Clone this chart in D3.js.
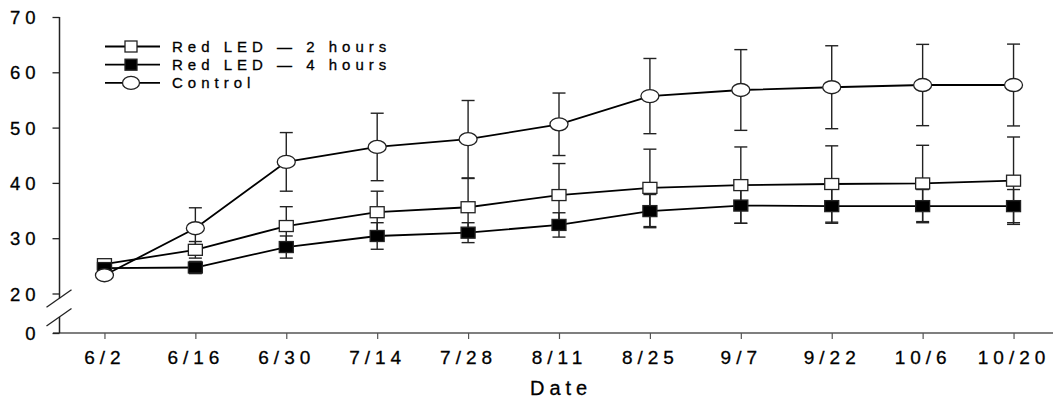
<!DOCTYPE html>
<html>
<head>
<meta charset="utf-8">
<script src="https://cdn.jsdelivr.net/npm/d3@7"></script>
<style>
  body { margin: 0; background: #fff; }
  svg { display: block; font-family: "Liberation Sans", Arial, sans-serif; }
</style>
</head>
<body>
<svg id="chart" width="1053" height="403"></svg>
<script>
var dates = ['6/2', '6/16', '6/30', '7/14', '7/28', '8/11', '8/25', '9/7', '9/22', '10/6', '10/20'];
var led2 = [25.3, 27.9, 32.2, 34.7, 35.6, 37.8, 39.1, 39.6, 39.8, 39.9, 40.4];
var led2Err = [0.6, 1.5, 3.5, 3.8, 5.2, 5.7, 7.0, 6.9, 6.9, 6.9, 7.9];
var led4 = [24.6, 24.7, 28.4, 30.4, 31.0, 32.4, 34.9, 35.9, 35.8, 35.8, 35.8];
var led4Err = [0.5, 1.1, 2.0, 2.4, 1.8, 2.2, 3.0, 3.2, 3.1, 3.0, 3.0];
var control = [23.3, 31.8, 43.8, 46.5, 47.9, 50.6, 55.7, 56.8, 57.3, 57.7, 57.7];
var controlErr = [0.5, 3.7, 5.3, 6.1, 7.0, 5.65, 6.8, 7.3, 7.5, 7.35, 7.4];
var yTicks = [0, 20, 30, 40, 50, 60, 70];
var legendNames = ['Red LED \u2014 2 hours', 'Red LED \u2014 4 hours', 'Control'];

var svg = d3.select('#chart');
var axisX = 59.5, axisY = 333;

var xScale = d3.scalePoint().domain(dates).range([59, 1059]).padding(0.5);
// broken axis: 0..20 squeezed, 20..70 linear
var yScale = d3.scaleLinear().domain([0, 20, 70]).range([333, 293.5, 17]);

// x axis
var xAxis = svg.append('g')
    .attr('transform', 'translate(0,' + axisY + ')')
    .call(d3.axisBottom(xScale).tickSize(6).tickPadding(12).tickSizeOuter(0));
xAxis.select('.domain').remove();
xAxis.append('line').attr('x1', 53).attr('x2', 1053).attr('stroke', '#555').attr('stroke-width', 1.5);
xAxis.selectAll('.tick line').attr('stroke', '#555').attr('stroke-width', 1.2);
xAxis.selectAll('.tick text')
    .attr('fill', '#000').attr('stroke', '#000').attr('stroke-width', 0.3)
    .attr('font-size', 19).attr('letter-spacing', 5)
    .attr('font-family', '"Liberation Sans", Arial, sans-serif');

// y axis
var yAxis = svg.append('g')
    .attr('transform', 'translate(' + axisX + ',0)')
    .call(d3.axisLeft(yScale).tickValues(yTicks).tickSize(7).tickPadding(12).tickFormat(d3.format('d')));
yAxis.select('.domain').remove();
yAxis.selectAll('.tick line').attr('stroke', '#222').attr('stroke-width', 1.3);
yAxis.selectAll('.tick text')
    .attr('fill', '#000').attr('stroke', '#000').attr('stroke-width', 0.3)
    .attr('font-size', 18.5).attr('letter-spacing', 5).attr('dy', '0.36em')
    .attr('font-family', '"Liberation Sans", Arial, sans-serif');

var breakTop = 17.6, breakBottom = 8.1;
yAxis.append('line').attr('y1', yScale(70)).attr('y2', yScale(breakTop)).attr('stroke', '#222').attr('stroke-width', 1.5);
yAxis.append('line').attr('y1', yScale(breakBottom)).attr('y2', yScale(0)).attr('stroke', '#222').attr('stroke-width', 1.5);
[breakTop, breakBottom].forEach(function(v) {
  yAxis.append('line')
    .attr('x1', -13).attr('y1', yScale(v) + 9)
    .attr('x2', 12).attr('y2', yScale(v) - 8.5)
    .attr('stroke', '#222').attr('stroke-width', 1.3);
});

svg.append('text')
    .attr('x', xScale('8/11') - 29).attr('y', 395)
    .attr('stroke', '#000').attr('stroke-width', 0.3)
    .attr('font-size', 20).attr('letter-spacing', 5)
    .text('Date');

// series
var series = [
  { name: legendNames[0], values: led2, err: led2Err, shape: 'square', fill: '#fff' },
  { name: legendNames[1], values: led4, err: led4Err, shape: 'square', fill: '#000' },
  { name: legendNames[2], values: control, err: controlErr, shape: 'circle', fill: '#fff' }
];

var line = d3.line()
    .x(function(d, i) { return xScale(dates[i]); })
    .y(function(d) { return yScale(d); });

var chart = svg.append('g');

series.forEach(function(s) {
  var g = chart.append('g');
  var bars = g.selectAll('.err').data(s.values).enter().append('g').attr('stroke', '#222').attr('stroke-width', 1.4);
  bars.append('line')
    .attr('x1', function(d, i) { return xScale(dates[i]); })
    .attr('x2', function(d, i) { return xScale(dates[i]); })
    .attr('y1', function(d, i) { return yScale(d + s.err[i]); })
    .attr('y2', function(d, i) { return yScale(d - s.err[i]); });
  [1, -1].forEach(function(sign) {
    bars.append('line')
      .attr('x1', function(d, i) { return xScale(dates[i]) - 6.5; })
      .attr('x2', function(d, i) { return xScale(dates[i]) + 6.5; })
      .attr('y1', function(d, i) { return yScale(d + sign * s.err[i]); })
      .attr('y2', function(d, i) { return yScale(d + sign * s.err[i]); });
  });
  g.append('path').datum(s.values)
    .attr('fill', 'none').attr('stroke', '#000').attr('stroke-width', 1.8)
    .attr('d', line);
});

function drawMarker(sel, shape, fill, w, h) {
  if (shape === 'square') {
    sel.append('rect').attr('x', -w / 2).attr('y', -h / 2).attr('width', w).attr('height', h)
      .attr('fill', fill).attr('stroke', '#222').attr('stroke-width', 1.3);
  } else {
    sel.append('ellipse').attr('rx', w / 2).attr('ry', h / 2)
      .attr('fill', fill).attr('stroke', '#222').attr('stroke-width', 1.3);
  }
}

series.forEach(function(s) {
  chart.append('g').selectAll('.pt').data(s.values).enter().append('g')
    .attr('transform', function(d, i) { return 'translate(' + xScale(dates[i]) + ',' + yScale(d) + ')'; })
    .each(function() {
      drawMarker(d3.select(this), s.shape, s.fill, s.shape === 'square' ? 14 : 18, s.shape === 'square' ? 11 : 13);
    });
});

// legend
var legend = svg.append('g').attr('transform', 'translate(105,46.5)');
series.forEach(function(s, i) {
  var row = legend.append('g').attr('transform', 'translate(0,' + (i * 18.2) + ')');
  row.append('line').attr('x1', 0).attr('x2', 55).attr('stroke', '#000').attr('stroke-width', 1.8);
  var m = row.append('g').attr('transform', 'translate(26,0)');
  drawMarker(m, s.shape, s.fill, s.shape === 'square' ? 12 : 17, s.shape === 'square' ? 11 : 13);
  row.append('text').attr('x', 67).attr('dy', '0.36em')
    .attr('stroke', '#000').attr('stroke-width', 0.3)
    .attr('font-size', 15).attr('letter-spacing', 5)
    .text(s.name);
});
</script>
</body>
</html>
